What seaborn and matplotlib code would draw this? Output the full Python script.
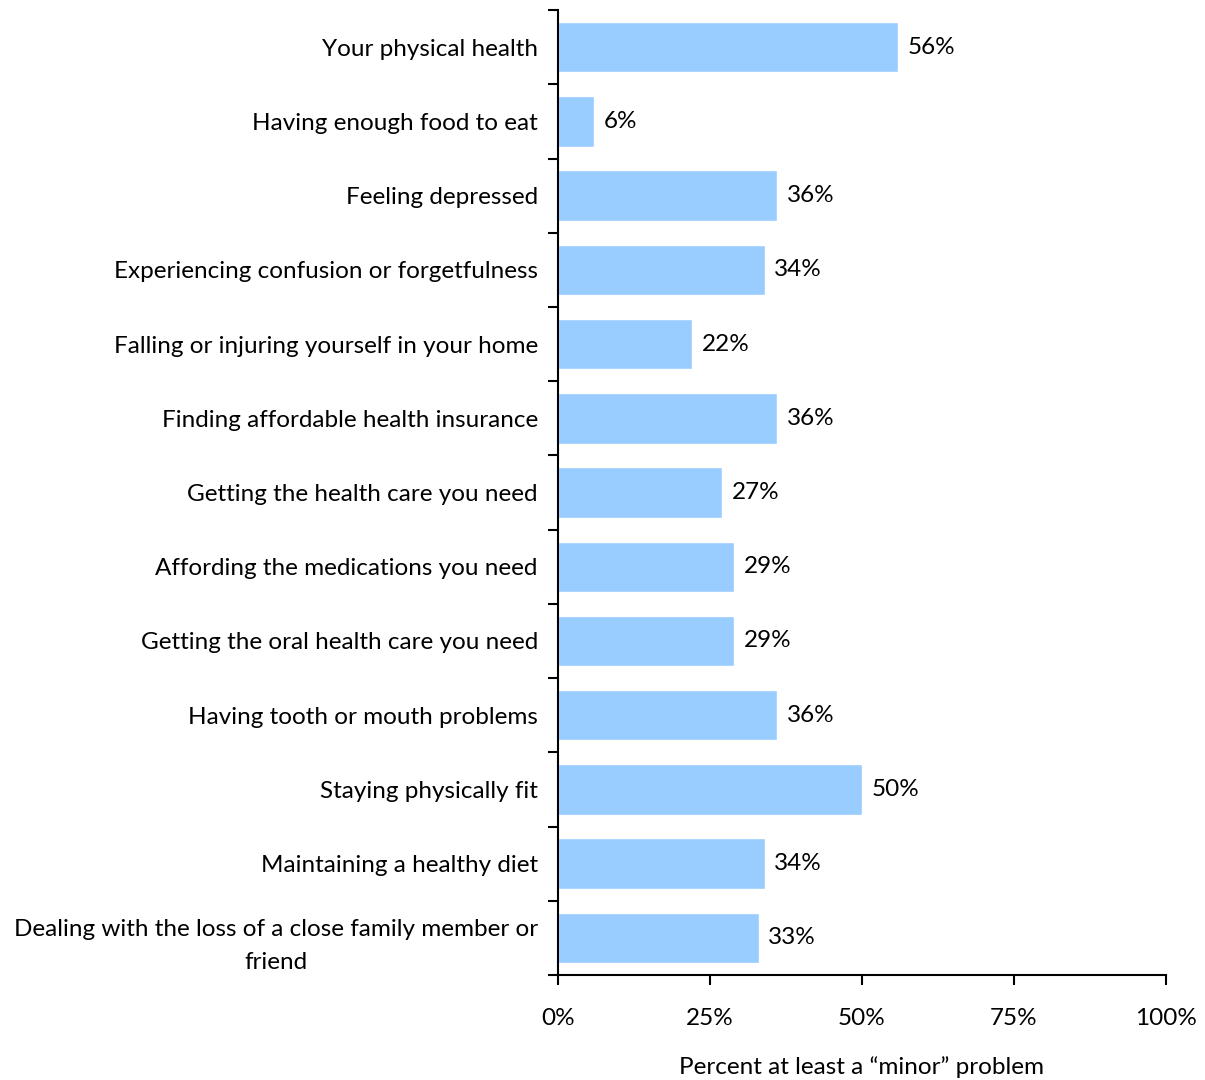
import matplotlib
matplotlib.use("Agg")
import matplotlib.pyplot as plt
import seaborn as sns
import pandas as pd
from matplotlib.ticker import FixedLocator, PercentFormatter

categories = [
    "Your physical health",
    "Having enough food to eat",
    "Feeling depressed",
    "Experiencing confusion or forgetfulness",
    "Falling or injuring yourself in your home",
    "Finding affordable health insurance",
    "Getting the health care you need",
    "Affording the medications you need",
    "Getting the oral health care you need",
    "Having tooth or mouth problems",
    "Staying physically fit",
    "Maintaining a healthy diet",
    "Dealing with the loss of a close family member or\nfriend",
]
values = [56, 6, 36, 34, 22, 36, 27, 29, 29, 36, 50, 34, 33]
x_ticks = [0, 25, 50, 75, 100]
x_label = "Percent at least a \u201cminor\u201d problem"

sns.set_theme(style="white")
plt.rcParams["font.family"] = ["Lato", "DejaVu Sans"]

FS = 17.5
df = pd.DataFrame({"cat": categories, "val": values})

fig = plt.figure(figsize=(12.05, 10.8), dpi=100)
ax = fig.add_axes([0.463, 0.0972, 0.5045, 0.8935])

sns.barplot(data=df, y="cat", x="val", orient="h", color="#99CCFF",
            saturation=1, width=0.68, ax=ax)

n = len(categories)
ax.set_ylim(n - 0.5, -0.5)
ax.set_xlim(0, 100)

for i, v in enumerate(values):
    ax.text(v + 1.6, i, f"{v}%", va="center", ha="left", fontsize=FS, color="black")

ax.xaxis.set_major_locator(FixedLocator(x_ticks))
ax.xaxis.set_major_formatter(PercentFormatter(decimals=0))
ax.tick_params(axis="x", which="major", direction="out", length=7, width=1.5,
               color="black", labelsize=FS, pad=17, bottom=True, labelcolor="black")

ax.yaxis.set_major_locator(FixedLocator(list(range(n))))
ax.set_yticklabels(categories)
ax.yaxis.set_minor_locator(FixedLocator([i - 0.5 for i in range(n + 1)]))
ax.tick_params(axis="y", which="major", length=0, labelsize=FS, pad=14.5,
               labelcolor="black")
ax.tick_params(axis="y", which="minor", direction="out", length=7, width=1.5,
               color="black", left=True)
for lbl in ax.get_yticklabels():
    lbl.set_multialignment("center")
    lbl.set_linespacing(1.7)

for s in ["top", "right"]:
    ax.spines[s].set_visible(False)
for s in ["left", "bottom"]:
    ax.spines[s].set_color("black")
    ax.spines[s].set_linewidth(1.5)

ax.set_ylabel("")
ax.set_xlabel(x_label, fontsize=FS, labelpad=19, color="black")

fig.savefig("out.png", dpi=100)
